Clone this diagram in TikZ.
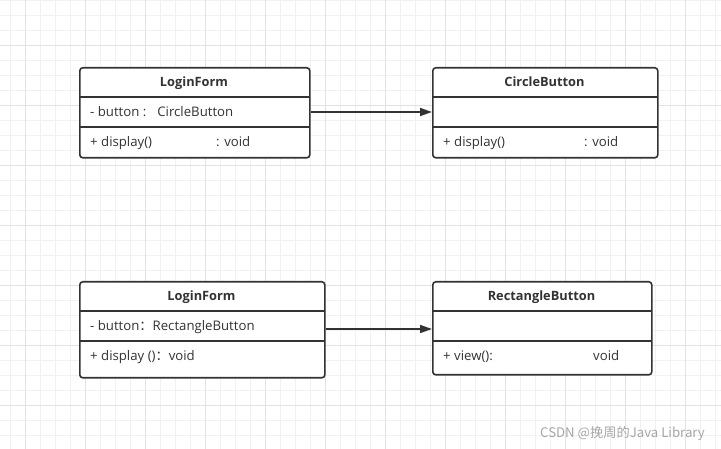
\documentclass[tikz,border=0pt]{standalone}
\usepackage{fontspec}
\setmainfont{Open Sans}
\newfontfamily\cjk{Noto Sans CJK SC}
\usetikzlibrary{arrows.meta}
\definecolor{minorgrid}{HTML}{F1F1F1}
\definecolor{majorgrid}{HTML}{E2E2E2}
\definecolor{ink}{HTML}{333333}
\begin{document}
\begin{tikzpicture}[x=1pt,y=-1pt,
  umlbox/.style={draw=ink, line width=1.6pt, rounded corners=3pt, anchor=north west, inner sep=0pt, fill=white},
  divider/.style={draw=ink, line width=1.6pt},
  head/.style={font=\fontsize{12.8}{14}\selectfont\bfseries, text=ink, inner sep=0pt, anchor=base},
  member/.style={font=\fontsize{13.2}{15}\selectfont, text=ink, inner sep=0pt, anchor=base west},
  assoc/.style={draw=ink, line width=1.6pt, -{Triangle[length=12pt,width=8pt]}},
  wmtext/.style={font=\cjk\fontsize{13.2}{15}\selectfont, text=black!35, inner sep=0pt, anchor=base west}
]
\useasboundingbox (0,0) rectangle (721,449);
\fill[white] (0,0) rectangle (721,449);
% grid
\foreach \x in {10,25,...,720} \draw[minorgrid, line width=0.8pt] (\x,0) -- (\x,449);
\foreach \y in {0,15,...,449} \draw[minorgrid, line width=0.8pt] (0,\y) -- (721,\y);
\foreach \x in {25,85,...,720} \draw[majorgrid, line width=0.8pt] (\x,0) -- (\x,449);
\foreach \y in {45,105,...,449} \draw[majorgrid, line width=0.8pt] (0,\y) -- (721,\y);

% Box 1: LoginForm (top)
\node[umlbox, minimum width=230pt, minimum height=90pt] (lf1) at (79,67) {};
\draw[divider] (79,97) -- (309,97);
\draw[divider] (79,127) -- (309,127);
\node[head] (lf1h) at (194,87) {LoginForm};
\node[member] (lf1a) at (90,117) {- button :\hspace{11pt}CircleButton};
\node[member] (lf1m) at (90,147) {+ display()};
\node[member] (lf1t) at (216,147) {: void};

% Box 2: CircleButton
\node[umlbox, minimum width=225pt, minimum height=90pt] (cb) at (432,67) {};
\draw[divider] (432,97) -- (657,97);
\draw[divider] (432,127) -- (657,127);
\node[head] (cbh) at (544.5,87) {CircleButton};
\node[member] (cbm) at (443,147) {+ display()};
\node[member] (cbt) at (584,147) {: void};

% Box 3: LoginForm (bottom)
\node[umlbox, minimum width=245pt, minimum height=96pt] (lf2) at (79,281) {};
\draw[divider] (79,311) -- (324,311);
\draw[divider] (79,341) -- (324,341);
\node[head] (lf2h) at (201.5,301) {LoginForm};
\node[member] (lf2a) at (90,331) {- button{\cjk ：}RectangleButton};
\node[member] (lf2m) at (90,361) {+ display (){\cjk ：}void};

% Box 4: RectangleButton
\node[umlbox, minimum width=219pt, minimum height=93pt] (rb) at (432,281) {};
\draw[divider] (432,311) -- (651,311);
\draw[divider] (432,341) -- (651,341);
\node[head] (rbh) at (541.5,301) {RectangleButton};
\node[member] (rbm) at (443,361) {+ view():};
\node[member] (rbt) at (593,361) {void};

% associations
\coordinate (y1) at (0,112);
\coordinate (y2) at (0,329);
\draw[assoc] (lf1.east |- y1) -- (cb.west |- y1);
\draw[assoc] (lf2.east |- y2) -- (rb.west |- y2);

% watermark
\node[wmtext] (wm) at (540,437) {CSDN @挽周的Java Library};
\end{tikzpicture}
\end{document}
